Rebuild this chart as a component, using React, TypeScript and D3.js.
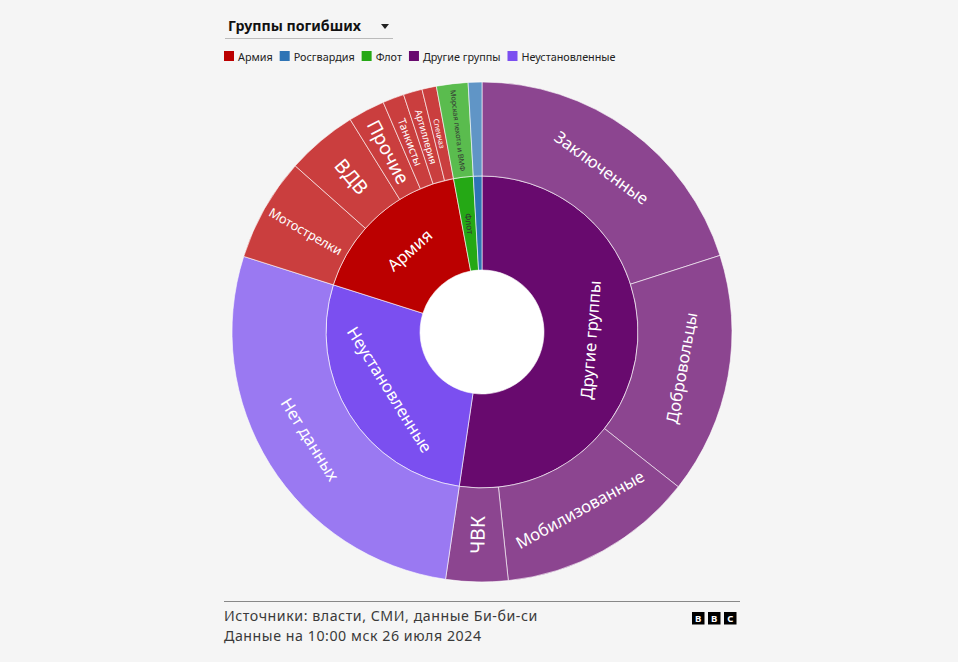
import * as d3 from "d3";
import { useEffect, useRef } from "react";

// groups (inner ring)
const groups = ["Армия", "Росгвардия", "Флот", "Другие группы", "Неустановленные"];
const groupColors = ["#bb0000", "#2e74b5", "#25a815", "#680a6e", "#7b4ff0"];

// subgroups (outer ring)
const subNames = [
  "Мотострелки", "ВДВ", "Прочие", "Танкисты", "Артиллерия", "Спецназ",
  "Росгвардия ", "Морская пехота и ВМФ",
  "Заключенные", "Добровольцы", "Мобилизованные", "ЧВК",
  "Нет данных",
];
const subParents = [
  "Армия", "Армия", "Армия", "Армия", "Армия", "Армия",
  "Росгвардия", "Флот",
  "Другие группы", "Другие группы", "Другие группы", "Другие группы",
  "Неустановленные",
];
const subValues = [
  4000, 2750, 1420, 830, 730, 560,
  530, 1220,
  12000, 9330, 7600, 2400,
  16500,
];
// segments drawn without a label
const noLabel = ["Росгвардия", "Росгвардия "];

const title = "Группы погибших";
const source = "Источники: власти, СМИ, данные Би-би-си";
const dateNote = "Данные на 10:00 мск 26 июля 2024";

const W = 958;
const H = 662;
const FONT = "'Noto Sans', sans-serif";

export default function App() {
  const ref = useRef<SVGSVGElement>(null);

  useEffect(() => {
    const svg = d3.select(ref.current);
    svg.selectAll("*").remove();

    svg.append("rect").attr("width", W).attr("height", H).attr("fill", "#f5f5f5");

    // header
    svg.append("text")
      .attr("x", 228).attr("y", 31)
      .attr("font-size", 14.2).attr("font-weight", 700).attr("fill", "#111")
      .text(title);
    svg.append("path").attr("d", "M381,24L389,24L385,29Z").attr("fill", "#222");
    svg.append("line")
      .attr("x1", 225).attr("x2", 393).attr("y1", 38.5).attr("y2", 38.5)
      .attr("stroke", "#bbb");

    const legend = svg.append("g").attr("transform", "translate(224,51)");
    let lx = 0;
    groups.forEach((g, i) => {
      const item = legend.append("g").attr("transform", `translate(${lx},0)`);
      item.append("rect").attr("width", 10).attr("height", 10).attr("fill", groupColors[i]);
      const t = item.append("text")
        .attr("x", 14).attr("y", 9.5)
        .attr("font-size", 10.8).attr("fill", "#222")
        .text(g);
      const w = (t.node() as SVGTextElement).getComputedTextLength();
      lx += 14 + w + 7;
    });

    // sunburst
    const cx = 482;
    const cy = 332;
    const data = {
      name: "root",
      children: groups.map((g) => ({
        name: g,
        children: subNames
          .map((n, i) => ({ name: n, parent: subParents[i], value: subValues[i] }))
          .filter((d) => d.parent === g),
      })),
    };
    const root = d3.hierarchy<any>(data)
      .sum((d) => d.value || 0)
      .sort((a, b) => (b.value || 0) - (a.value || 0));
    d3.partition<any>().size([2 * Math.PI, 3])(root);
    const r = d3.scaleLinear([1, 3], [62, 250]);
    const color = d3.scaleOrdinal<string, string>(groups, groupColors);

    const arc = d3.arc<any>()
      .startAngle((d) => d.x0)
      .endAngle((d) => d.x1)
      .innerRadius((d) => r(d.y0))
      .outerRadius((d) => r(d.y1));

    const nodes = root.descendants().filter((d: any) => d.depth > 0);
    const groupOf = (d: any) => (d.depth === 1 ? d.data.name : d.parent.data.name);

    const g = svg.append("g").attr("transform", `translate(${cx},${cy})`);
    g.append("circle").attr("r", r(1)).attr("fill", "#fff");
    g.selectAll("path.seg")
      .data(nodes)
      .join("path")
      .attr("class", "seg")
      .attr("d", arc)
      .attr("fill", (d: any) => color(groupOf(d)))
      .attr("fill-opacity", (d: any) => (d.depth === 1 ? 1 : 0.75))
      .attr("stroke", "rgba(255,255,255,0.6)")
      .attr("stroke-width", 1);

    const labels = g.append("g").attr("font-family", FONT);
    nodes.forEach((d: any) => {
      if (noLabel.includes(d.data.name)) return;
      const a = ((d.x0 + d.x1) / 2) * 180 / Math.PI;
      const rm = (r(d.y0) + r(d.y1)) / 2;
      const arcLen = rm * (d.x1 - d.x0);
      const thick = r(d.y1) - r(d.y0);
      const tangential = arcLen > thick;
      const t = labels.append("text")
        .attr("text-anchor", "middle")
        .attr("dy", "0.35em")
        .attr("font-size", 10)
        .attr("fill", groupOf(d) === "Флот" ? "#333" : "#fff")
        .text(d.data.name.trim());
      const w10 = (t.node() as SVGTextElement).getComputedTextLength();
      let fs;
      if (tangential) fs = Math.min(16.6, ((arcLen - 14) / w10) * 10);
      else fs = Math.min(19.5, arcLen * 0.62, ((thick - 12) / w10) * 10);
      t.attr("font-size", fs);
      const x = rm * Math.sin((a * Math.PI) / 180);
      const y = -rm * Math.cos((a * Math.PI) / 180);
      let rot;
      if (tangential) rot = a + (a > 90 && a < 270 ? 180 : 0);
      else rot = a - 90 + (a > 180 ? 180 : 0);
      t.attr("transform", `translate(${x},${y}) rotate(${rot})`);
    });

    // footer
    svg.append("line")
      .attr("x1", 224).attr("x2", 740).attr("y1", 601.5).attr("y2", 601.5)
      .attr("stroke", "#888");
    svg.append("text").attr("x", 224).attr("y", 621)
      .attr("font-size", 14.2).attr("letter-spacing", 0.55)
      .attr("fill", "#3a3a3a").text(source);
    svg.append("text").attr("x", 224).attr("y", 640.5)
      .attr("font-size", 14.2).attr("letter-spacing", 0.55)
      .attr("fill", "#3a3a3a").text(dateNote);
    const bbc = svg.append("g").attr("transform", "translate(692,612)");
    ["B", "B", "C"].forEach((l, i) => {
      bbc.append("rect").attr("x", i * 16).attr("width", 12.5).attr("height", 12.5).attr("fill", "#000");
      bbc.append("text").attr("x", i * 16 + 6.25).attr("y", 10)
        .attr("text-anchor", "middle").attr("font-size", 9.5).attr("font-weight", 700)
        .attr("fill", "#fff").text(l);
    });
  }, []);

  return (
    <svg
      ref={ref}
      width={W}
      height={H}
      style={{ position: "absolute", left: 0, top: 0, fontFamily: FONT }}
    />
  );
}
